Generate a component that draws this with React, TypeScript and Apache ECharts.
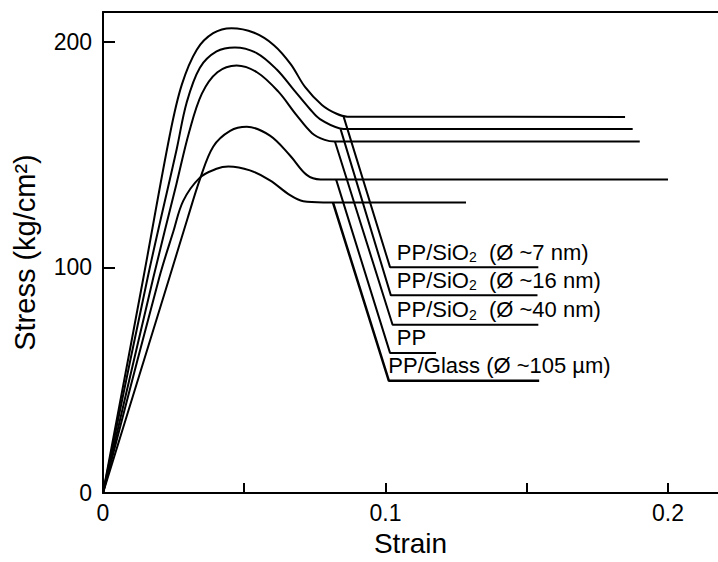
import React, { useEffect, useRef } from 'react';
import * as echarts from 'echarts';

// Stress–strain curves: [strain, stress (kg/cm²)]
const sio2_7nm: [number, number][] = [
  [0, 0], [0.0143, 95.4], [0.0237, 159], [0.0279, 181], [0.0332, 196.5], [0.039, 203.8],
  [0.0455, 206], [0.0535, 204], [0.0605, 198.5], [0.0665, 190], [0.0715, 180],
  [0.0775, 172], [0.0825, 168.2], [0.0865, 166.8], [0.1848, 166.7],
];
const sio2_16nm: [number, number][] = [
  [0, 0], [0.0158, 95.4], [0.0261, 152.5], [0.0296, 173], [0.0343, 188.5], [0.0402, 195.7],
  [0.0467, 197.5], [0.0544, 195], [0.0615, 187.7], [0.0674, 178.9], [0.0733, 170.1],
  [0.0768, 165.7], [0.0839, 161.6], [0.087, 161.3], [0.1875, 161.3],
];
const sio2_40nm: [number, number][] = [
  [0, 0], [0.0178, 95.4], [0.026, 137], [0.0305, 160], [0.035, 177], [0.0405, 186.5],
  [0.0473, 189.5], [0.0545, 186.5], [0.062, 178], [0.0685, 167.5], [0.074, 159.5],
  [0.0785, 156.5], [0.0821, 155.8], [0.19, 155.8],
];
const pp: [number, number][] = [
  [0, 0], [0.0235, 95.4], [0.03, 122], [0.0343, 139], [0.039, 153.5], [0.045, 160.5],
  [0.0509, 162.3], [0.0591, 158.4], [0.0662, 149.6], [0.0721, 141], [0.077, 139], [0.2, 139],
];
const ppGlass: [number, number][] = [
  [0, 0], [0.0199, 95.4], [0.0249, 115.9], [0.0284, 129.5], [0.0343, 139.8], [0.0402, 143.7],
  [0.0444, 144.7], [0.052, 143], [0.0591, 138.6], [0.0662, 132], [0.0709, 129.3],
  [0.078, 128.8], [0.1285, 128.8],
];

const curves = [sio2_7nm, sio2_16nm, sio2_40nm, pp, ppGlass];
const seriesNames = [
  'PP/SiO2 (Ø ~7 nm)', 'PP/SiO2 (Ø ~16 nm)', 'PP/SiO2 (Ø ~40 nm)', 'PP', 'PP/Glass (Ø ~105 µm)',
];
const labelRich = [
  '{m|PP/SiO}{s|2}{m|  (Ø ~7 nm)}',
  '{m|PP/SiO}{s|2}{m|  (Ø ~16 nm)}',
  '{m|PP/SiO}{s|2}{m|  (Ø ~40 nm)}',
  '{m|PP}',
  '{m|PP/Glass (Ø ~105 µm)}',
];

// Annotation leaders (data coords)
const leaderStart: [number, number][] = [
  [0.0852, 166.7], [0.0841, 161.3], [0.0821, 155.8], [0.0825, 139], [0.0814, 128.8],
];
const leaderEnd: [number, number][] = [
  [0.1016, 100.1], [0.1019, 87.6], [0.1025, 74.6], [0.1016, 62.1], [0.1012, 49.7],
];
const underlineEnd = [0.1541, 0.1538, 0.1541, 0.1179, 0.1544];
const labelX = [0.104, 0.104, 0.104, 0.104, 0.101];

const xTicks = [0, 0.05, 0.1, 0.15, 0.2];
const xTickLabels = [0, 0.1, 0.2];
const yTicks = [0, 100, 200];

const FONT = '"Liberation Sans", Arial, Helvetica, sans-serif';

export default function App() {
  const ref = useRef<HTMLDivElement>(null);
  useEffect(() => {
    const chart = echarts.init(ref.current!, null, { renderer: 'svg' });
    const curveSeries = curves.map((d, i) => ({
      name: seriesNames[i],
      type: 'line',
      data: d,
      smooth: 0.35,
      symbol: 'none',
      silent: true,
      lineStyle: { color: '#000', width: 2 },
      z: 3,
    }));
    const leaderSeries = leaderStart.map((s, i) => ({
      name: seriesNames[i] + ' label',
      type: 'line',
      data: [s, leaderEnd[i], [underlineEnd[i], leaderEnd[i][1]]],
      symbol: 'none',
      silent: true,
      lineStyle: { color: '#000', width: i === 4 ? 2.5 : 2 },
      z: 2,
    }));
    const option: any = {
      animation: false,
      textStyle: { fontFamily: FONT },
      grid: { left: 103, right: 0, top: 12, bottom: 64 },
      xAxis: [
        {
          type: 'value', min: 0, max: 0.2177, interval: 0.05, position: 'bottom',
          axisLine: { show: true, onZero: false, lineStyle: { color: '#000', width: 2 } },
          axisTick: {
            show: true, inside: true, length: 10, customValues: xTicks,
            lineStyle: { color: '#000', width: 2 },
          },
          axisLabel: {
            fontSize: 23, color: '#000', margin: 8, fontFamily: FONT,
            customValues: xTickLabels,
            formatter: (v: number) => String(Math.round(v * 1000) / 1000),
          },
          splitLine: { show: false },
          name: 'Strain', nameLocation: 'middle', nameGap: 36,
          nameTextStyle: { fontSize: 28, color: '#000', fontFamily: FONT },
        },
        {
          type: 'value', min: 0, max: 0.2177, position: 'top',
          axisLine: { show: true, onZero: false, lineStyle: { color: '#000', width: 2 } },
          axisTick: { show: false }, axisLabel: { show: false }, splitLine: { show: false },
        },
      ],
      yAxis: {
        type: 'value', min: 0, max: 213.2, interval: 100,
        axisLine: { show: true, lineStyle: { color: '#000', width: 2 } },
        axisTick: {
          show: true, inside: true, length: 12, customValues: yTicks,
          lineStyle: { color: '#000', width: 2 },
        },
        axisLabel: {
          fontSize: 23, color: '#000', margin: 11, fontFamily: FONT,
          customValues: yTicks,
          formatter: (v: number) => String(Math.round(v)),
        },
        splitLine: { show: false },
        name: 'Stress (kg/cm²)', nameLocation: 'middle', nameGap: 64,
        nameTextStyle: { fontSize: 29, color: '#000', fontFamily: FONT },
      },
      series: [...curveSeries, ...leaderSeries],
    };
    chart.setOption(option);

    const graphics = labelRich.map((t, i) => {
      const p = chart.convertToPixel({ xAxisIndex: 0, yAxisIndex: 0 } as any, [labelX[i], leaderEnd[i][1]]) as number[];
      return {
        type: 'text',
        x: p[0],
        y: p[1] - 3,
        silent: true,
        style: {
          text: t,
          fill: '#000',
          fontFamily: FONT,
          fontSize: 22,
          align: 'left',
          verticalAlign: 'bottom',
          rich: {
            m: { fontSize: 22, fontFamily: FONT, lineHeight: 24, fill: '#000' },
            s: { fontSize: 14, fontFamily: FONT, lineHeight: 14, fill: '#000', verticalAlign: 'bottom' },
          },
        },
      };
    });
    chart.setOption({ graphic: graphics });
    return () => chart.dispose();
  }, []);
  return <div ref={ref} style={{ position: 'absolute', left: 0, top: 0, width: 718, height: 562 }} />;
}
